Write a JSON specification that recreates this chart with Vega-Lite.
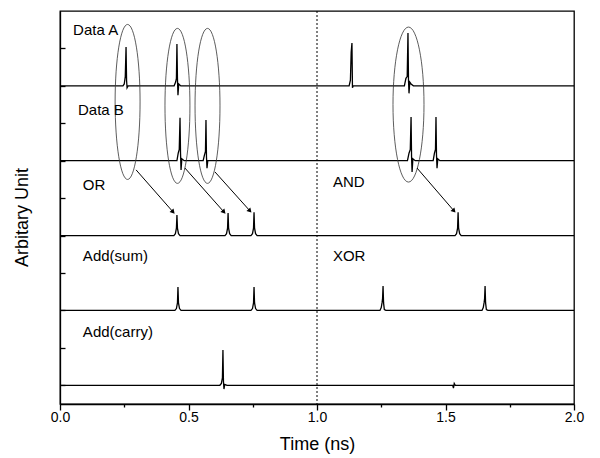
{
  "$schema": "https://vega.github.io/schema/vega-lite/v6.json",
  "width": 514,
  "height": 393,
  "autosize": "none",
  "padding": {"left": 60, "top": 11, "right": 26, "bottom": 54},
  "background": "white",
  "config": {
    "font": "Liberation Sans",
    "view": {"stroke": "black", "strokeWidth": 1.3},
    "axis": {"domainColor": "black", "tickColor": "black", "labelColor": "black", "titleColor": "black", "grid": false, "domainWidth": 1.3, "tickWidth": 1.3}
  },
  "datasets": {
    "traces": [
      {"s":"A","t":0,"v":17},{"s":"A","t":0.245,"v":17},{"s":"A","t":0.25,"v":17.1},{"s":"A","t":0.254,"v":17.5},{"s":"A","t":0.257,"v":19.08},{"s":"A","t":0.259,"v":17.3},{"s":"A","t":0.261,"v":16.9},{"s":"A","t":0.265,"v":17},
      {"s":"A","t":0.444,"v":17},{"s":"A","t":0.45,"v":17.2},{"s":"A","t":0.453,"v":17.4},{"s":"A","t":0.455,"v":19.24},{"s":"A","t":0.457,"v":17.4},{"s":"A","t":0.459,"v":16.5},{"s":"A","t":0.462,"v":17.1},{"s":"A","t":0.47,"v":17},
      {"s":"A","t":1.125,"v":17},{"s":"A","t":1.13,"v":17.3},{"s":"A","t":1.133,"v":18.8},{"s":"A","t":1.136,"v":19.29},{"s":"A","t":1.138,"v":16.9},{"s":"A","t":1.141,"v":17},
      {"s":"A","t":1.34,"v":17},{"s":"A","t":1.346,"v":17.4},{"s":"A","t":1.351,"v":17.5},{"s":"A","t":1.354,"v":19.83},{"s":"A","t":1.356,"v":17.3},{"s":"A","t":1.358,"v":16.6},{"s":"A","t":1.361,"v":17.2},{"s":"A","t":1.366,"v":17.1},{"s":"A","t":1.375,"v":17},{"s":"A","t":2,"v":17},
      {"s":"B","t":0,"v":13},{"s":"B","t":0.455,"v":13},{"s":"B","t":0.46,"v":13.4},{"s":"B","t":0.464,"v":13.6},{"s":"B","t":0.467,"v":15.29},{"s":"B","t":0.469,"v":13.4},{"s":"B","t":0.471,"v":12.5},{"s":"B","t":0.474,"v":13.1},{"s":"B","t":0.483,"v":13},
      {"s":"B","t":0.557,"v":13},{"s":"B","t":0.562,"v":13.3},{"s":"B","t":0.566,"v":13.5},{"s":"B","t":0.568,"v":15.18},{"s":"B","t":0.57,"v":13.2},{"s":"B","t":0.572,"v":12.6},{"s":"B","t":0.575,"v":13},
      {"s":"B","t":1.352,"v":13},{"s":"B","t":1.358,"v":13.4},{"s":"B","t":1.363,"v":13.6},{"s":"B","t":1.366,"v":15.34},{"s":"B","t":1.368,"v":13.2},{"s":"B","t":1.37,"v":12.4},{"s":"B","t":1.373,"v":13.1},{"s":"B","t":1.382,"v":13},
      {"s":"B","t":1.452,"v":13},{"s":"B","t":1.457,"v":13.4},{"s":"B","t":1.461,"v":13.6},{"s":"B","t":1.463,"v":15.34},{"s":"B","t":1.465,"v":13.3},{"s":"B","t":1.467,"v":12.6},{"s":"B","t":1.47,"v":13.1},{"s":"B","t":1.478,"v":13},{"s":"B","t":2,"v":13},
      {"s":"OR","t":0,"v":9},{"s":"OR","t":0.443,"v":9},{"s":"OR","t":0.449,"v":9.1},{"s":"OR","t":0.453,"v":9.4},{"s":"OR","t":0.455,"v":10.1},{"s":"OR","t":0.457,"v":9.4},{"s":"OR","t":0.461,"v":9.1},{"s":"OR","t":0.467,"v":9},
      {"s":"OR","t":0.642,"v":9},{"s":"OR","t":0.648,"v":9.1},{"s":"OR","t":0.652,"v":9.4},{"s":"OR","t":0.654,"v":10.2},{"s":"OR","t":0.656,"v":9.4},{"s":"OR","t":0.66,"v":9.1},{"s":"OR","t":0.666,"v":9},
      {"s":"OR","t":0.743,"v":9},{"s":"OR","t":0.749,"v":9.1},{"s":"OR","t":0.753,"v":9.4},{"s":"OR","t":0.755,"v":10.25},{"s":"OR","t":0.757,"v":9.4},{"s":"OR","t":0.761,"v":9.1},{"s":"OR","t":0.767,"v":9},
      {"s":"OR","t":1.537,"v":9},{"s":"OR","t":1.543,"v":9.1},{"s":"OR","t":1.547,"v":9.4},{"s":"OR","t":1.549,"v":10.25},{"s":"OR","t":1.551,"v":9.4},{"s":"OR","t":1.555,"v":9.1},{"s":"OR","t":1.561,"v":9},{"s":"OR","t":2,"v":9},
      {"s":"SUM","t":0,"v":5},{"s":"SUM","t":0.447,"v":5},{"s":"SUM","t":0.453,"v":5.1},{"s":"SUM","t":0.457,"v":5.4},{"s":"SUM","t":0.459,"v":6.25},{"s":"SUM","t":0.461,"v":5.4},{"s":"SUM","t":0.465,"v":5.1},{"s":"SUM","t":0.471,"v":5},
      {"s":"SUM","t":0.743,"v":5},{"s":"SUM","t":0.749,"v":5.1},{"s":"SUM","t":0.753,"v":5.4},{"s":"SUM","t":0.755,"v":6.25},{"s":"SUM","t":0.757,"v":5.4},{"s":"SUM","t":0.761,"v":5.1},{"s":"SUM","t":0.767,"v":5},
      {"s":"SUM","t":1.245,"v":5},{"s":"SUM","t":1.25,"v":5.15},{"s":"SUM","t":1.253,"v":5.4},{"s":"SUM","t":1.255,"v":5.6},{"s":"SUM","t":1.257,"v":6.3},{"s":"SUM","t":1.259,"v":5.4},{"s":"SUM","t":1.262,"v":5.05},{"s":"SUM","t":1.268,"v":5},
      {"s":"SUM","t":1.642,"v":5},{"s":"SUM","t":1.647,"v":5.15},{"s":"SUM","t":1.65,"v":5.4},{"s":"SUM","t":1.652,"v":5.6},{"s":"SUM","t":1.654,"v":6.3},{"s":"SUM","t":1.656,"v":5.4},{"s":"SUM","t":1.659,"v":5.05},{"s":"SUM","t":1.665,"v":5},{"s":"SUM","t":2,"v":5},
      {"s":"CARRY","t":0,"v":1},{"s":"CARRY","t":0.622,"v":1},{"s":"CARRY","t":0.628,"v":1.1},{"s":"CARRY","t":0.632,"v":1.4},{"s":"CARRY","t":0.634,"v":2.89},{"s":"CARRY","t":0.636,"v":1.2},{"s":"CARRY","t":0.638,"v":0.8},{"s":"CARRY","t":0.641,"v":1.05},{"s":"CARRY","t":0.65,"v":1},{"s":"CARRY","t":1.528,"v":1},{"s":"CARRY","t":1.531,"v":0.85},{"s":"CARRY","t":1.534,"v":1.1},{"s":"CARRY","t":1.538,"v":1},{"s":"CARRY","t":2,"v":1}
    ],
    "ellipses": [
      {"t":0.263,"v":16.14,"k":"narrow"},
      {"t":0.457,"v":15.93,"k":"narrow"},
      {"t":0.574,"v":15.93,"k":"narrow"},
      {"t":1.356,"v":16.0,"k":"wide"}
    ],
    "arrows": [
      {"t":0.296,"v":12.51,"t2":0.44,"v2":10.26},
      {"t":0.486,"v":12.61,"t2":0.638,"v2":10.26},
      {"t":0.603,"v":12.4,"t2":0.739,"v2":10.32},
      {"t":1.389,"v":12.61,"t2":1.533,"v2":10.32}
    ],
    "labels": [
      {"t":0.051,"v":19.99,"text":"Data A"},
      {"t":0.07,"v":15.71,"text":"Data B"},
      {"t":0.089,"v":11.7,"text":"OR"},
      {"t":1.062,"v":11.87,"text":"AND"},
      {"t":0.089,"v":7.91,"text":"Add(sum)"},
      {"t":1.062,"v":7.91,"text":"XOR"},
      {"t":0.089,"v":3.85,"text":"Add(carry)"}
    ]
  },
  "resolve": {"axis": {"x": "independent"}},
  "layer": [
    {
      "data": {"name": "traces"},
      "mark": {"type": "line", "color": "black", "strokeWidth": 1.3, "interpolate": "linear"},
      "encoding": {
        "x": {"field": "t", "type": "quantitative", "scale": {"domain": [0, 2], "nice": false},
          "axis": {"orient": "bottom", "values": [0, 0.5, 1, 1.5, 2], "format": ".1f", "labelFontSize": 14, "tickSize": 6, "labelPadding": 0, "labelFlush": false,
            "title": "Time (ns)", "titleFontSize": 18, "titleFontWeight": "normal", "titleY": 40, "titleBaseline": "middle"}},
        "y": {"field": "v", "type": "quantitative", "scale": {"domain": [0, 21], "nice": false, "zero": false},
          "axis": {"values": [1,2,3,4,5,6,7,8,9,10,11,12,13,14,15,16,17,18,19,20], "labels": false, "tickSize": -5,
            "title": "Arbitary Unit", "titleFontSize": 18, "titleFontWeight": "normal", "titleX": -38, "titleY": 206, "titleAngle": -90, "titleBaseline": "middle", "titleAlign": "center"}},
        "detail": {"field": "s", "type": "nominal"}
      }
    },
    {
      "data": {"values": [{"t": 1}]},
      "mark": {"type": "rule", "color": "black", "strokeDash": [2, 2], "strokeWidth": 1},
      "encoding": {
        "x": {"field": "t", "type": "quantitative",
          "axis": {"orient": "bottom", "values": [0.25, 0.75, 1.25, 1.75], "labels": false, "tickSize": 3, "domain": false, "title": null}}
      }
    },
    {
      "data": {"name": "ellipses"},
      "mark": {"type": "point", "filled": false, "stroke": "#333", "strokeWidth": 0.8, "size": 24025, "opacity": 1},
      "encoding": {
        "x": {"field": "t", "type": "quantitative", "axis": null},
        "y": {"field": "v", "type": "quantitative"},
        "shape": {"field": "k", "type": "nominal", "legend": null,
          "scale": {"domain": ["narrow", "wide"], "range": ["M -0.161 0 A 0.161 1 0 1 1 0.161 0 A 0.161 1 0 1 1 -0.161 0 Z", "M -0.2 0 A 0.2 1 0 1 1 0.2 0 A 0.2 1 0 1 1 -0.2 0 Z"]}}
      }
    },
    {
      "data": {"name": "arrows"},
      "mark": {"type": "rule", "color": "black", "strokeWidth": 1},
      "encoding": {
        "x": {"field": "t", "type": "quantitative", "axis": null},
        "y": {"field": "v", "type": "quantitative"},
        "x2": {"field": "t2"},
        "y2": {"field": "v2"}
      }
    },
    {
      "data": {"name": "arrows"},
      "mark": {"type": "point", "shape": "triangle-right", "filled": true, "color": "black", "size": 28, "angle": 48, "opacity": 1},
      "encoding": {
        "x": {"field": "t2", "type": "quantitative", "axis": null},
        "y": {"field": "v2", "type": "quantitative"}
      }
    },
    {
      "data": {"name": "labels"},
      "mark": {"type": "text", "align": "left", "baseline": "middle", "fontSize": 15, "color": "black"},
      "encoding": {
        "x": {"field": "t", "type": "quantitative", "axis": null},
        "y": {"field": "v", "type": "quantitative"},
        "text": {"field": "text", "type": "nominal"}
      }
    }
  ]
}
